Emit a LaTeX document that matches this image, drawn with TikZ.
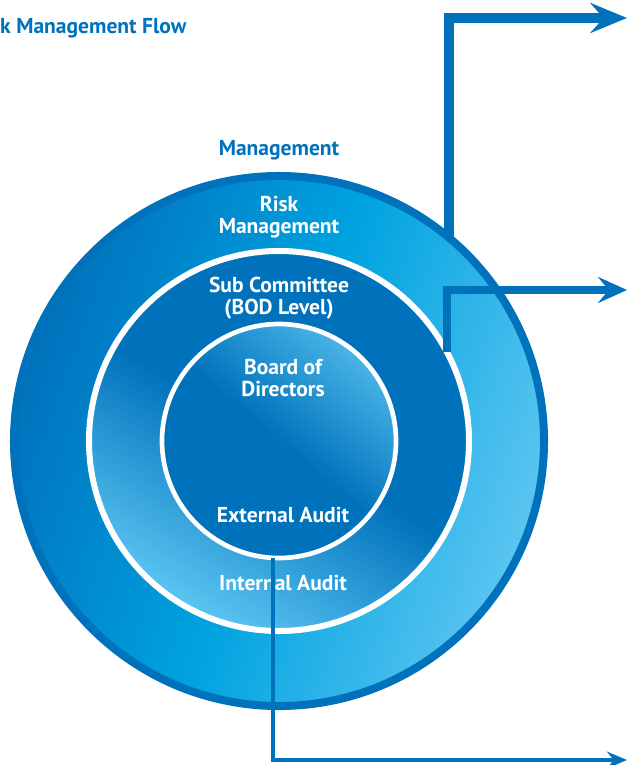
\documentclass[tikz,border=0pt]{standalone}
\usepackage{fontspec}
\setmainfont{PT Sans}
\usepackage{tikz}
\usetikzlibrary{arrows.meta,positioning}
\definecolor{rmdark}{HTML}{0072BC}
\definecolor{rmcyan}{HTML}{00A3E0}
\definecolor{rmlight}{HTML}{5BC5F1}
\begin{document}
\begin{tikzpicture}[x=0.03cm, y=-0.03cm,
    ring/.style={circle, inner sep=0pt, outer sep=0pt},
    label/.style={font=\fontsize{18.4}{18.6}\selectfont\bfseries, text=white, align=center, inner sep=0pt},
    heading/.style={font=\fontsize{18.4}{18.6}\selectfont\bfseries, text=rmdark, inner sep=0pt},
    flow/.style={draw=rmdark, line join=miter},
  ]
  \useasboundingbox (0,0) rectangle (627,765);
  % rings
  \node [ring, minimum size=15.9cm, draw=rmdark, line width=0.24cm,
         left color=rmdark, right color=rmlight, middle color=rmcyan, shading angle=70] (risk) at (279,441) {};
  \node [ring, minimum size=11.4cm, draw=white, line width=0.18cm,
         top color=rmdark, bottom color=rmlight, middle color=rmdark, shading angle=-30] (sub) at (279,441) {};
  \node [ring, minimum size=7.02cm, draw=white, line width=0.14cm,
         top color=rmlight!80!rmdark, bottom color=rmdark, middle color=rmdark, shading angle=-40] (board) at (279,441) {};
  % texts
  \node [heading, anchor=west] (flowtitle) at (0,28) {k Management Flow};
  \node [heading] (mgmtlabel) at (279,150) {Management};
  \node [label] (risklabel) at (279,217) {Risk\\Management};
  \node [label] (sublabel) at (279,298) {Sub Committee\\(BOD Level)};
  \node [label] (boardlabel) at (283,378) {Board of\\Directors};
  \node [label] (extlabel) at (283,515) {External Audit};
  \node [label] (intlabel) at (283,583) {Internal Audit};
  % outgoing arrows
  \coordinate (mgmtout) at (627,18);
  \coordinate (subout) at (627,290);
  \coordinate (auditout) at (627,760);
  \draw [flow, line width=0.3cm, -{Stealth[length=1.1cm, width=0.9cm, inset=0.4cm]}] (risk.50) |- (mgmtout);
  \draw [flow, line width=0.25cm, -{Stealth[length=0.87cm, width=0.78cm, inset=0.32cm]}] (sub.28) |- (subout);
  \draw [flow, line width=0.135cm, -{Stealth[length=0.6cm, width=0.5cm, inset=0.2cm]}] (board.267) |- (auditout);
\end{tikzpicture}
\end{document}
